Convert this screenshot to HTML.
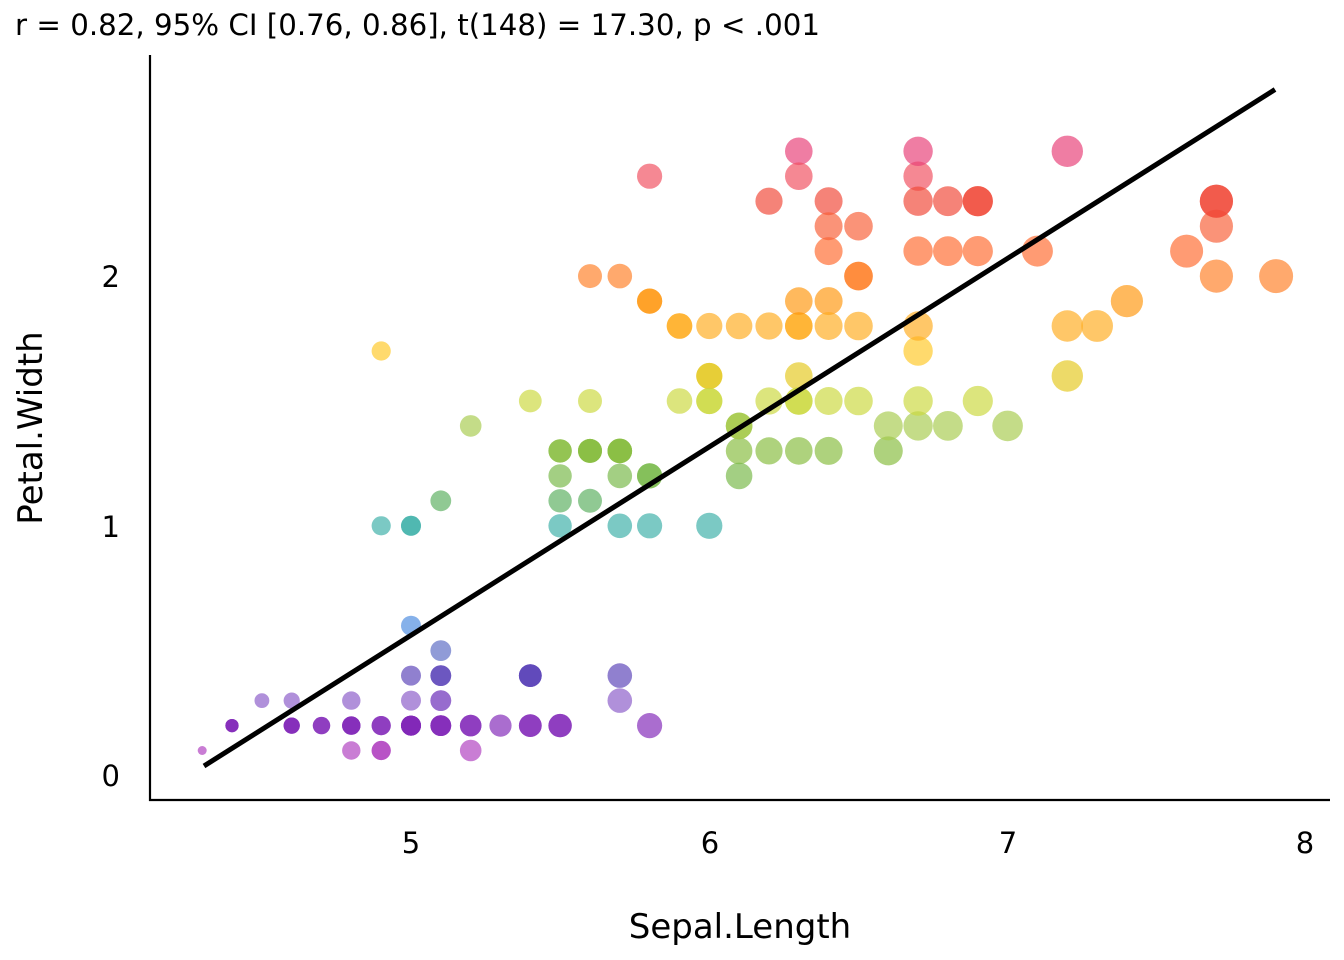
<!DOCTYPE html>
<html><head><meta charset="utf-8"><style>
html,body{margin:0;padding:0;background:#fff;}
svg{display:block;font-family:"DejaVu Sans","Liberation Sans",sans-serif;}
</style></head><body>
<svg id="s" width="1344" height="960" viewBox="0 0 1344 960" xmlns="http://www.w3.org/2000/svg">
<rect width="1344" height="960" fill="#fff"/>
<text x="15" y="35" font-size="29" fill="#000" textLength="805" lengthAdjust="spacingAndGlyphs">r = 0.82, 95% CI [0.76, 0.86], t(148) = 17.30, p &lt; .001</text>
<g id="pts"></g>
<line x1="204" y1="766" x2="1275" y2="89.5" stroke="#000" stroke-width="5"/>
<line x1="150" y1="55" x2="150" y2="801" stroke="#000" stroke-width="2.2"/>
<line x1="149" y1="800" x2="1330" y2="800" stroke="#000" stroke-width="2.2"/>
<g font-size="29" fill="#000" text-anchor="middle">
<text x="411" y="853">5</text><text x="710" y="853">6</text><text x="1008" y="853">7</text><text x="1305" y="853">8</text>
</g>
<g font-size="29" fill="#000" text-anchor="end">
<text x="120" y="786">0</text><text x="120" y="537">1</text><text x="120" y="287">2</text>
</g>
<text x="740" y="938" font-size="34" text-anchor="middle" fill="#000">Sepal.Length</text>
<text transform="translate(42,428) rotate(-90)" font-size="34" text-anchor="middle" fill="#000">Petal.Width</text>
</svg>
<script>
var SL=[5.1,4.9,4.7,4.6,5.0,5.4,4.6,5.0,4.4,4.9,5.4,4.8,4.8,4.3,5.8,5.7,5.4,5.1,5.7,5.1,5.4,5.1,4.6,5.1,4.8,5.0,5.0,5.2,5.2,4.7,4.8,5.4,5.2,5.5,4.9,5.0,5.5,4.9,4.4,5.1,5.0,4.5,4.4,5.0,5.1,4.8,5.1,4.6,5.3,5.0,
7.0,6.4,6.9,5.5,6.5,5.7,6.3,4.9,6.6,5.2,5.0,5.9,6.0,6.1,5.6,6.7,5.6,5.8,6.2,5.6,5.9,6.1,6.3,6.1,6.4,6.6,6.8,6.7,6.0,5.7,5.5,5.5,5.8,6.0,5.4,6.0,6.7,6.3,5.6,5.5,5.5,6.1,5.8,5.0,5.6,5.7,5.7,6.2,5.1,5.7,
6.3,5.8,7.1,6.3,6.5,7.6,4.9,7.3,6.7,7.2,6.5,6.4,6.8,5.7,5.8,6.4,6.5,7.7,7.7,6.0,6.9,5.6,7.7,6.3,6.7,7.2,6.2,6.1,6.4,7.2,7.4,7.9,6.4,6.3,6.1,7.7,6.3,6.4,6.0,6.9,6.7,6.9,5.8,6.8,6.7,6.7,6.3,6.5,6.2,5.9];
var PW=[.2,.2,.2,.2,.2,.4,.3,.2,.2,.1,.2,.2,.1,.1,.2,.4,.4,.3,.3,.3,.2,.4,.2,.5,.2,.2,.4,.2,.2,.2,.2,.4,.1,.2,.2,.2,.2,.1,.2,.2,.3,.3,.2,.6,.4,.3,.2,.2,.2,.2,
1.4,1.5,1.5,1.3,1.5,1.3,1.6,1.0,1.3,1.4,1.0,1.5,1.0,1.4,1.3,1.4,1.5,1.0,1.5,1.1,1.8,1.3,1.5,1.2,1.3,1.4,1.4,1.7,1.5,1.0,1.1,1.0,1.2,1.6,1.5,1.6,1.5,1.3,1.3,1.3,1.2,1.4,1.2,1.0,1.3,1.2,1.3,1.3,1.1,1.3,
2.5,1.9,2.1,1.8,2.2,2.1,1.7,1.8,1.8,2.5,2.0,1.9,2.1,2.0,2.4,2.3,1.8,2.2,2.3,1.5,2.3,2.0,2.0,1.8,2.1,1.8,1.8,1.8,2.1,1.6,1.9,2.0,2.2,1.5,1.4,2.3,2.4,1.8,1.8,2.1,2.4,2.3,1.9,2.3,2.5,2.3,1.9,2.0,2.3,1.8];
var C={"0.1":"#b040c0","0.2":"#8228b8","0.3":"#8a5cc8","0.4":"#5c44b8","0.5":"#5c6cc4","0.6":"#4c8ce0",
"1":"#3cb0a8","1.1":"#5cb060","1.2":"#78b848","1.3":"#88bc40","1.4":"#a8cc50","1.5":"#ccd840","1.6":"#e4c820",
"1.7":"#ffc828","1.8":"#ffac20","1.9":"#ff9810","2":"#ff8028","2.1":"#ff6c30","2.2":"#f86038","2.3":"#f04838","2.4":"#f05060","2.5":"#e84078"};
var g=document.getElementById("pts"),h="";
for(var i=0;i<150;i++){
 var x=411+(SL[i]-5)*298.3, y=775.5-249.7*PW[i];
 var r=4.5+12.5*Math.sqrt((SL[i]-4.3)/3.6);
 var k=String(Math.round(PW[i]*10)/10);
 h+='<circle cx="'+x.toFixed(1)+'" cy="'+y.toFixed(1)+'" r="'+r.toFixed(1)+'" fill="'+(C[k]||"#888")+'" fill-opacity="0.68"/>';
}
g.innerHTML=h;
</script>
</body></html>
